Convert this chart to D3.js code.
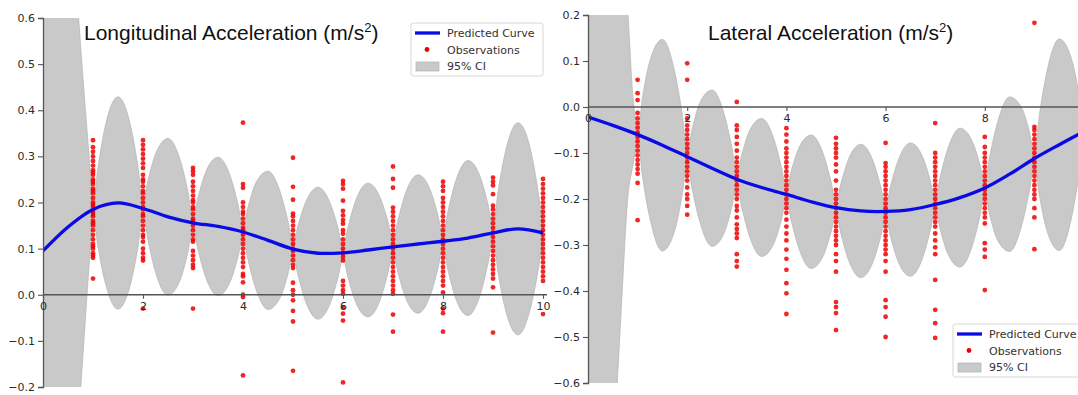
<!DOCTYPE html>
<html>
<head>
<meta charset="utf-8">
<script src="https://cdn.jsdelivr.net/npm/d3@7"></script>
<style>
  body { margin: 0; background: #fff; }
  .tick text { font-family: "DejaVu Sans", sans-serif; font-size: 11px; fill: #2b2b2b; }
  .title { font-family: "Liberation Sans", Arial, sans-serif; font-size: 21px; fill: #111; }
  .legendText { font-family: "DejaVu Sans", sans-serif; font-size: 11px; fill: #333; }
</style>
</head>
<body>
<div id="chart"></div>
<script>
// x positions where the band / curve are sampled
let gridX = [0, 0.25, 0.5, 0.6, 0.7, 0.8, 0.9, 0.95,
  1, 1.1, 1.25, 1.5, 1.75, 1.9,
  2, 2.1, 2.25, 2.5, 2.75, 2.9,
  3, 3.1, 3.25, 3.5, 3.75, 3.9,
  4, 4.1, 4.25, 4.5, 4.75, 4.9,
  5, 5.1, 5.25, 5.5, 5.75, 5.9,
  6, 6.1, 6.25, 6.5, 6.75, 6.9,
  7, 7.1, 7.25, 7.5, 7.75, 7.9,
  8, 8.1, 8.25, 8.5, 8.75, 8.9,
  9, 9.1, 9.25, 9.5, 9.75, 9.9,
  10];

// 95% CI, longitudinal
let lonUpper = [1.6, 1.25, 0.95, 0.78, 0.62, 0.47, 0.33, 0.26,
  0.197, 0.277, 0.368, 0.429, 0.367, 0.277,
  0.199, 0.248, 0.305, 0.339, 0.29, 0.223,
  0.168, 0.211, 0.265, 0.298, 0.256, 0.196,
  0.148, 0.19, 0.241, 0.268, 0.221, 0.159,
  0.111, 0.15, 0.2, 0.233, 0.197, 0.145,
  0.103, 0.147, 0.203, 0.242, 0.209, 0.158,
  0.116, 0.162, 0.22, 0.26, 0.226, 0.172,
  0.128, 0.181, 0.245, 0.291, 0.254, 0.196,
  0.146, 0.223, 0.311, 0.373, 0.315, 0.225,
  0.146];
let lonLower = [-1.4, -1.0, -0.65, -0.47, -0.29, -0.13, 0.03, 0.105,
  0.173, 0.103, 0.024, -0.031, 0.023, 0.103,
  0.175, 0.118, 0.049, -0.001, 0.034, 0.093,
  0.144, 0.097, 0.039, -0.002, 0.03, 0.082,
  0.124, 0.076, 0.015, -0.032, -0.005, 0.045,
  0.087, 0.042, -0.014, -0.053, -0.017, 0.037,
  0.079, 0.037, -0.015, -0.048, -0.009, 0.048,
  0.092, 0.048, -0.006, -0.04, 0, 0.058,
  0.104, 0.053, -0.007, -0.045, 0.002, 0.068,
  0.122, 0.049, -0.033, -0.087, -0.029, 0.051,
  0.122];

// 95% CI, lateral
let latUpper = [1.0, 0.75, 0.5, 0.4, 0.3, 0.21, 0.03, -0.02,
  -0.052, 0.022, 0.101, 0.147, 0.076, -0.016,
  -0.096, -0.048, 0.008, 0.037, -0.017, -0.087,
  -0.145, -0.104, -0.053, -0.025, -0.07, -0.131,
  -0.178, -0.138, -0.089, -0.061, -0.104, -0.162,
  -0.207, -0.166, -0.114, -0.081, -0.118, -0.172,
  -0.215, -0.172, -0.117, -0.078, -0.109, -0.159,
  -0.2, -0.152, -0.092, -0.046, -0.075, -0.124,
  -0.164, -0.107, -0.036, 0.022, -0.003, -0.054,
  -0.1, -0.018, 0.076, 0.148, 0.104, 0.028,
  -0.041];
let latLower = [-1.6, -1.2, -0.75, -0.58, -0.38, -0.2, -0.13, -0.1,
  -0.068, -0.152, -0.243, -0.313, -0.268, -0.19,
  -0.12, -0.178, -0.248, -0.303, -0.273, -0.217,
  -0.169, -0.218, -0.279, -0.325, -0.296, -0.245,
  -0.202, -0.248, -0.307, -0.351, -0.322, -0.272,
  -0.231, -0.276, -0.332, -0.371, -0.336, -0.282,
  -0.239, -0.282, -0.335, -0.368, -0.327, -0.269,
  -0.224, -0.266, -0.318, -0.348, -0.301, -0.238,
  -0.188, -0.235, -0.288, -0.314, -0.255, -0.182,
  -0.124, -0.192, -0.268, -0.312, -0.24, -0.146,
  -0.065];

// predicted curves
let predX = [0, 0.5, 1, 1.5, 2, 2.5, 3, 3.5, 4, 4.5, 5, 5.5, 6, 6.5, 7, 7.5, 8, 8.5, 9, 9.5, 10];
let lonPred = [0.095, 0.147, 0.185, 0.199, 0.187, 0.169, 0.156, 0.148, 0.136, 0.118, 0.099,
  0.09, 0.091, 0.097, 0.104, 0.11, 0.116, 0.123, 0.134, 0.143, 0.134];
let latPred = [-0.022, -0.04, -0.06, -0.083, -0.108, -0.133, -0.157, -0.175, -0.19, -0.206, -0.219,
  -0.226, -0.227, -0.223, -0.212, -0.197, -0.176, -0.146, -0.112, -0.082, -0.053];

// observations, one list per x position
let lonObsX = [1, 2, 3, 4, 5, 6, 7, 8, 9, 10];
let lonObs = [
  [0.335, 0.32, 0.31, 0.3, 0.29, 0.28, 0.27, 0.265, 0.26, 0.25, 0.245, 0.24, 0.23, 0.225, 0.22, 0.21, 0.2, 0.195, 0.19, 0.18, 0.175, 0.17, 0.16, 0.155, 0.15, 0.14, 0.13, 0.12, 0.11, 0.105, 0.1, 0.09, 0.085, 0.08, 0.035],
  [0.335, 0.325, 0.315, 0.305, 0.295, 0.285, 0.275, 0.26, 0.25, 0.245, 0.235, 0.225, 0.22, 0.21, 0.2, 0.19, 0.185, 0.175, 0.17, 0.16, 0.15, 0.14, 0.13, 0.125, 0.115, 0.1, 0.09, 0.08, 0.074, -0.03],
  [0.275, 0.268, 0.26, 0.245, 0.235, 0.225, 0.215, 0.205, 0.2, 0.19, 0.185, 0.175, 0.165, 0.16, 0.15, 0.14, 0.13, 0.12, 0.115, 0.095, 0.085, 0.075, 0.065, 0.058, -0.03],
  [0.373, 0.24, 0.232, 0.2, 0.19, 0.18, 0.175, 0.165, 0.155, 0.145, 0.14, 0.13, 0.12, 0.11, 0.1, 0.09, 0.08, 0.07, 0.06, 0.045, 0.04, 0.027, 0.0, -0.005, -0.175],
  [0.297, 0.234, 0.206, 0.176, 0.17, 0.16, 0.15, 0.14, 0.13, 0.12, 0.11, 0.1, 0.095, 0.085, 0.075, 0.065, 0.058, 0.026, 0.01, 0.0, -0.012, -0.035, -0.058, -0.165],
  [0.247, 0.24, 0.23, 0.204, 0.182, 0.172, 0.162, 0.154, 0.14, 0.132, 0.12, 0.11, 0.1, 0.09, 0.082, 0.074, 0.03, 0.02, 0.01, 0.002, -0.028, -0.041, -0.056, -0.19],
  [0.278, 0.251, 0.232, 0.189, 0.18, 0.17, 0.16, 0.15, 0.14, 0.13, 0.12, 0.11, 0.1, 0.09, 0.08, 0.07, 0.06, 0.05, 0.04, 0.03, 0.02, 0.01, 0.002, -0.043, -0.08],
  [0.245, 0.235, 0.225, 0.21, 0.2, 0.19, 0.18, 0.17, 0.16, 0.15, 0.14, 0.13, 0.12, 0.11, 0.1, 0.09, 0.08, 0.07, 0.06, 0.05, 0.04, 0.03, 0.02, 0.005, -0.03, -0.04, -0.08],
  [0.254, 0.245, 0.237, 0.218, 0.193, 0.185, 0.175, 0.165, 0.155, 0.145, 0.135, 0.125, 0.115, 0.105, 0.095, 0.085, 0.075, 0.065, 0.055, 0.045, 0.035, 0.016, -0.082],
  [0.251, 0.24, 0.23, 0.22, 0.21, 0.2, 0.19, 0.18, 0.17, 0.16, 0.15, 0.14, 0.13, 0.12, 0.11, 0.1, 0.09, 0.08, 0.07, 0.06, 0.05, 0.04, 0.03, -0.042]
];
let latObsX = [1, 2, 3, 4, 5, 6, 7, 8, 9];
let latObs = [
  [0.059, 0.03, 0.015, -0.013, -0.025, -0.035, -0.045, -0.055, -0.065, -0.075, -0.085, -0.095, -0.105, -0.115, -0.125, -0.135, -0.145, -0.165, -0.246],
  [0.095, 0.059, -0.025, -0.04, -0.05, -0.06, -0.07, -0.08, -0.09, -0.1, -0.11, -0.12, -0.13, -0.14, -0.15, -0.16, -0.175, -0.19, -0.2, -0.215, -0.234],
  [0.011, -0.04, -0.05, -0.065, -0.08, -0.095, -0.11, -0.12, -0.13, -0.14, -0.15, -0.16, -0.17, -0.18, -0.19, -0.2, -0.215, -0.225, -0.24, -0.255, -0.265, -0.275, -0.285, -0.32, -0.335, -0.347],
  [-0.046, -0.06, -0.075, -0.09, -0.1, -0.11, -0.12, -0.13, -0.14, -0.15, -0.16, -0.17, -0.18, -0.19, -0.2, -0.21, -0.22, -0.23, -0.245, -0.26, -0.275, -0.29, -0.31, -0.33, -0.354, -0.383, -0.405, -0.45],
  [-0.067, -0.08, -0.09, -0.1, -0.11, -0.125, -0.14, -0.16, -0.18, -0.19, -0.2, -0.21, -0.22, -0.23, -0.24, -0.25, -0.26, -0.27, -0.28, -0.29, -0.3, -0.32, -0.335, -0.358, -0.424, -0.435, -0.448, -0.485],
  [-0.078, -0.122, -0.13, -0.14, -0.15, -0.16, -0.17, -0.18, -0.19, -0.2, -0.21, -0.22, -0.23, -0.24, -0.25, -0.26, -0.27, -0.28, -0.29, -0.3, -0.31, -0.32, -0.335, -0.358, -0.42, -0.435, -0.456, -0.5],
  [-0.035, -0.1, -0.11, -0.12, -0.13, -0.14, -0.15, -0.16, -0.17, -0.18, -0.19, -0.2, -0.21, -0.22, -0.23, -0.24, -0.25, -0.26, -0.275, -0.29, -0.305, -0.32, -0.376, -0.441, -0.47, -0.502],
  [-0.065, -0.087, -0.1, -0.11, -0.12, -0.13, -0.14, -0.15, -0.16, -0.17, -0.18, -0.19, -0.2, -0.21, -0.22, -0.23, -0.24, -0.253, -0.296, -0.31, -0.326, -0.398],
  [0.183, -0.043, -0.05, -0.06, -0.07, -0.08, -0.09, -0.1, -0.11, -0.12, -0.13, -0.14, -0.15, -0.16, -0.17, -0.18, -0.19, -0.2, -0.22, -0.24, -0.309]
];

// the lateral panel is cropped before its "10" tick
let lonXTicks = [0, 2, 4, 6, 8, 10];
let latXTicks = [0, 2, 4, 6, 8];
let lonYTicks = [-0.2, -0.1, 0.0, 0.1, 0.2, 0.3, 0.4, 0.5, 0.6];
let latYTicks = [-0.6, -0.5, -0.4, -0.3, -0.2, -0.1, 0.0, 0.1, 0.2];
let legendLabels = ["Predicted Curve", "Observations", "95% CI"];

let svgWidth = 1078;
let svgHeight = 395;

let svg = d3.select("#chart")
  .append("svg")
  .attr("width", svgWidth)
  .attr("height", svgHeight);

function drawPanel(p) {
  let x = d3.scaleLinear().domain([0, 10]).range(p.xRange);
  let y = d3.scaleLinear().domain(p.yDomain).range(p.yRange);

  let g = svg.append("g");

  // clip to the axes box
  g.append("clipPath")
    .attr("id", p.id + "clip")
    .append("rect")
    .attr("x", p.xRange[0])
    .attr("y", p.yRange[1])
    .attr("width", p.xRange[1] - p.xRange[0] + 4)
    .attr("height", p.yRange[0] - p.yRange[1]);

  let plot = g.append("g").attr("clip-path", `url(#${p.id}clip)`);

  // Step 1: confidence band
  let band = d3.area()
    .x((d, i) => x(gridX[i]))
    .y0((d, i) => y(p.lower[i]))
    .y1((d, i) => y(p.upper[i]))
    .curve(d3.curveMonotoneX);

  plot.append("path")
    .datum(gridX)
    .attr("d", band)
    .attr("fill", "#c9c9c9")
    .attr("stroke", "#b3b3b3")
    .attr("stroke-width", 0.7);

  // Step 2: axes (spines through zero)
  let yAxis = d3.axisLeft(y)
    .tickValues(p.yTicks)
    .tickFormat(d3.format(".1f"))
    .tickSize(5)
    .tickPadding(3);

  let xAxis = d3.axisBottom(x)
    .tickValues(p.xTicks)
    .tickFormat(d3.format("d"))
    .tickSize(4)
    .tickPadding(3);

  let ya = g.append("g")
    .attr("transform", `translate(${p.xRange[0]},0)`)
    .call(yAxis);

  let xa = g.append("g")
    .attr("transform", `translate(0,${y(0)})`)
    .call(xAxis);

  xa.select(".domain").attr("d", `M${p.xRange[0]},0H${p.xRange[1] + 4}`);
  [ya, xa].forEach(a => {
    a.select(".domain").attr("stroke", "#555").attr("stroke-width", 1.3);
    a.selectAll(".tick line").attr("stroke", "#555").attr("stroke-width", 1.1);
  });

  // Step 3: observations
  let pts = [];
  p.obsX.forEach((xv, i) => p.obs[i].forEach(v => pts.push([xv, v])));

  plot.selectAll("circle.obs")
    .data(pts)
    .enter()
    .append("circle")
    .attr("class", "obs")
    .attr("cx", d => x(d[0]))
    .attr("cy", d => y(d[1]))
    .attr("r", 2.4)
    .attr("fill", "#ee0000")
    .attr("opacity", 0.85);

  // Step 4: predicted curve
  let line = d3.line()
    .x((d, i) => x(predX[i]))
    .y(d => y(d))
    .curve(d3.curveCatmullRom);

  plot.append("path")
    .datum(p.pred)
    .attr("d", line)
    .attr("fill", "none")
    .attr("stroke", "#0a0ae6")
    .attr("stroke-width", 3.3);

  // Step 5: title
  let t = g.append("text")
    .attr("class", "title")
    .attr("x", p.titleX)
    .attr("y", 40)
    .text(p.title + " (m/s");
  t.append("tspan")
    .attr("font-size", "13px")
    .attr("dy", -8)
    .text("2");
  t.append("tspan")
    .attr("dy", 8)
    .text(")");

  // Step 6: legend
  let lg = g.append("g").attr("transform", `translate(${p.legend[0]},${p.legend[1]})`);
  lg.append("rect")
    .attr("width", 132)
    .attr("height", 53)
    .attr("rx", 2.5)
    .attr("fill", "#fff")
    .attr("fill-opacity", 0.9)
    .attr("stroke", "#d6d6d6");
  lg.append("line")
    .attr("x1", 4).attr("x2", 29)
    .attr("y1", 10).attr("y2", 10)
    .attr("stroke", "#0a0ae6")
    .attr("stroke-width", 3.3);
  lg.append("circle")
    .attr("cx", 16).attr("cy", 26.5)
    .attr("r", 2.4)
    .attr("fill", "#ee0000");
  lg.append("rect")
    .attr("x", 5).attr("y", 39)
    .attr("width", 23).attr("height", 9)
    .attr("fill", "#c9c9c9")
    .attr("stroke", "#b3b3b3")
    .attr("stroke-width", 0.7);
  lg.selectAll("text.legendText")
    .data(legendLabels)
    .enter()
    .append("text")
    .attr("class", "legendText")
    .attr("x", 36)
    .attr("y", (d, i) => 14 + i * 16.5)
    .text(d => d);
}

drawPanel({
  id: "lon",
  xRange: [43, 543],
  yDomain: [-0.2, 0.6],
  yRange: [387, 18],
  xTicks: lonXTicks,
  yTicks: lonYTicks,
  upper: lonUpper,
  lower: lonLower,
  pred: lonPred,
  obsX: lonObsX,
  obs: lonObs,
  title: "Longitudinal Acceleration",
  titleX: 84,
  legend: [411, 23]
});

drawPanel({
  id: "lat",
  xRange: [588, 1084],
  yDomain: [-0.6, 0.2],
  yRange: [383, 15],
  xTicks: latXTicks,
  yTicks: latYTicks,
  upper: latUpper,
  lower: latLower,
  pred: latPred,
  obsX: latObsX,
  obs: latObs,
  title: "Lateral Acceleration",
  titleX: 708,
  legend: [953, 324]
});
</script>
</body>
</html>
